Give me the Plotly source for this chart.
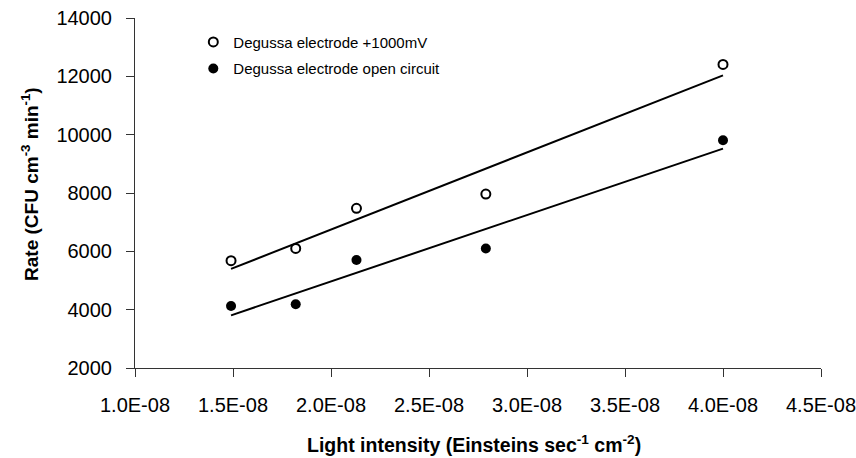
import numpy as np
import plotly.graph_objects as go

# Data
light_intensity = [1.49e-08, 1.82e-08, 2.13e-08, 2.79e-08, 4.00e-08]
rate_1000mV = [5680, 6100, 7475, 7965, 12410]
rate_open_circuit = [4125, 4184, 5700, 6100, 9806]

x_tick_vals = [1.0e-08, 1.5e-08, 2.0e-08, 2.5e-08, 3.0e-08, 3.5e-08, 4.0e-08, 4.5e-08]
x_tick_text = ["1.0E-08", "1.5E-08", "2.0E-08", "2.5E-08", "3.0E-08", "3.5E-08", "4.0E-08", "4.5E-08"]
y_tick_vals = [2000, 4000, 6000, 8000, 10000, 12000, 14000]
y_tick_text = ["2000", "4000", "6000", "8000", "10000", "12000", "14000"]

series_names = ["Degussa electrode +1000mV", "Degussa electrode open circuit"]
x_title = "<b>Light intensity (Einsteins sec<sup>-1</sup> cm<sup>-2</sup>)</b>"
y_title = "<b>Rate (CFU cm<sup>-3</sup> min<sup>-1</sup>)</b>"

FONT = "Liberation Sans, Arial, Helvetica, sans-serif"


def trend(xs, ys):
    xs = np.asarray(xs)
    k, b = np.polyfit(xs * 1e8, np.asarray(ys), 1)
    xe = np.array([xs.min(), xs.max()])
    return xe, k * xe * 1e8 + b


fig = go.Figure()

# trend lines
for ys in [rate_1000mV, rate_open_circuit]:
    tx, ty = trend(light_intensity, ys)
    fig.add_trace(go.Scatter(x=tx, y=ty, mode="lines",
                             line=dict(color="black", width=2),
                             showlegend=False, hoverinfo="skip"))

fig.add_trace(go.Scatter(
    x=light_intensity, y=rate_1000mV, mode="markers", name=series_names[0],
    legendgroup="a",
    marker=dict(symbol="circle-open", size=9, color="black", line=dict(width=2, color="black"))))
fig.add_trace(go.Scatter(
    x=light_intensity, y=rate_open_circuit, mode="markers", name=series_names[1],
    legendgroup="b",
    marker=dict(symbol="circle", size=10, color="black")))

fig.update_layout(
    width=856, height=458,
    margin=dict(l=135, r=35, t=18, b=90, autoexpand=False),
    paper_bgcolor="white", plot_bgcolor="white",
    font=dict(family=FONT, color="black"),
    showlegend=True,
    legend=dict(x=0.085, y=0.978, xanchor="left", yanchor="top",
                font=dict(size=15, family=FONT, color="black"),
                bgcolor="rgba(0,0,0,0)", tracegroupgap=4,
                itemsizing="trace"),
    xaxis=dict(
        range=[1.0e-08, 4.5e-08], tickmode="array",
        tickvals=x_tick_vals, ticktext=x_tick_text,
        showgrid=False, zeroline=False, showline=True,
        linecolor="#333", linewidth=1,
        ticks="outside", ticklen=8, tickcolor="#333",
        ticklabelstandoff=11, ticklabeloverflow="allow", automargin=False,
        tickfont=dict(size=20, family=FONT, color="black"),
    ),
    yaxis=dict(
        range=[2000, 14000], tickmode="array", tickvals=y_tick_vals, ticktext=y_tick_text,
        showgrid=False, zeroline=False, showline=True,
        linecolor="#333", linewidth=1,
        ticks="outside", ticklen=8, tickcolor="#333",
        ticklabelstandoff=10, ticklabeloverflow="allow", automargin=False,
        tickfont=dict(size=20, family=FONT, color="black"),
    ),
    annotations=[
        dict(text=x_title, xref="paper", yref="paper", x=0.494, y=-0.218,
             xanchor="center", yanchor="middle", showarrow=False,
             font=dict(size=19.5, family=FONT, color="black")),
        dict(text=y_title, xref="paper", yref="paper", x=-0.153, y=0.526,
             xanchor="center", yanchor="middle", showarrow=False, textangle=-90,
             font=dict(size=19, family=FONT, color="black")),
    ],
)

fig.write_html("out.html")
